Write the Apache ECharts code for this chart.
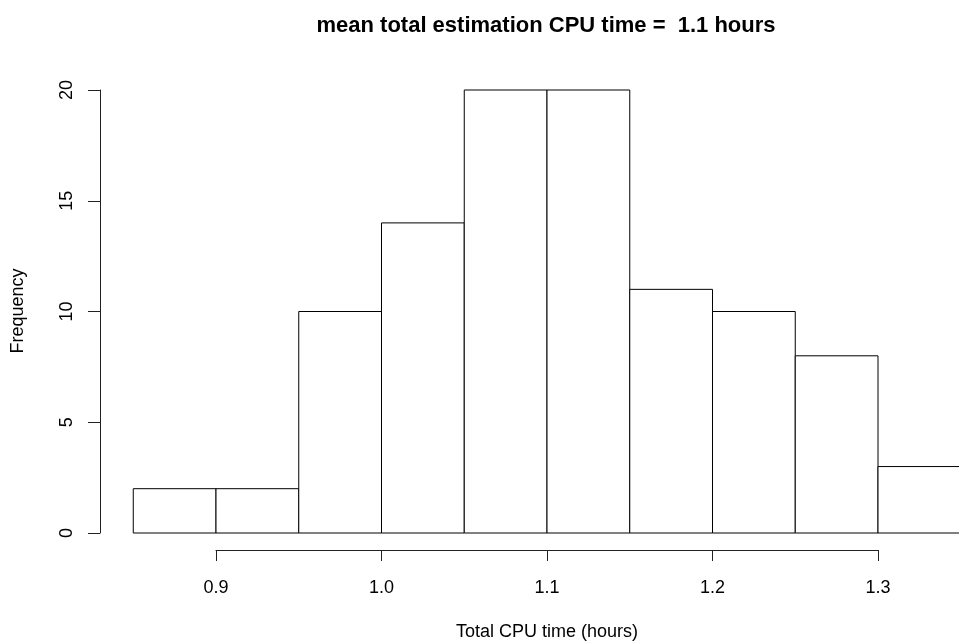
<!DOCTYPE html>
<html>
<head>
<meta charset="utf-8">
<script src="https://cdn.jsdelivr.net/npm/echarts@6/dist/echarts.min.js"></script>
<style>
  html, body { margin: 0; padding: 0; background: #fff; }
  #chart { width: 959px; height: 643px; }
</style>
</head>
<body>
<div id="chart"></div>
<script>
// Histogram of total estimation CPU time, bin width 0.05 hours
const binStarts = [0.85, 0.90, 0.95, 1.00, 1.05, 1.10, 1.15, 1.20, 1.25, 1.30];
const binEnds   = [0.90, 0.95, 1.00, 1.05, 1.10, 1.15, 1.20, 1.25, 1.30, 1.35];
const counts    = [2, 2, 10, 14, 20, 20, 11, 10, 8, 3];
const yTicks    = [0, 5, 10, 15, 20];
const xTicks    = [0.9, 1.0, 1.1, 1.2, 1.3];
const titleText = 'mean total estimation CPU time =  1.1 hours';
const xLabel    = 'Total CPU time (hours)';
const yLabel    = 'Frequency';

const FONT = '"Liberation Sans", Arial, Helvetica, sans-serif';
const AXIS_COLOR = '#222';

const bins = binStarts.map((s, i) => [s, binEnds[i], counts[i]]);

const chart = echarts.init(document.getElementById('chart'), null, { renderer: 'canvas' });

chart.setOption({
  backgroundColor: '#ffffff',
  animation: false,
  title: {
    text: titleText,
    left: 541,
    top: 10,
    textAlign: 'center',
    textStyle: { fontFamily: FONT, fontSize: 22, fontWeight: 'bold', color: '#000' }
  },
  grid: [
    // bars: x scale spans the labelled ticks, outer bins extend past it
    { left: 216, top: 90, width: 662, height: 443, containLabel: false },
    // x axis drawn a little below the bars
    { left: 216, top: 90, width: 662, height: 460, containLabel: false }
  ],
  xAxis: [
    {
      gridIndex: 0, type: 'value', min: xTicks[0], max: xTicks[xTicks.length - 1],
      show: false
    },
    {
      gridIndex: 1, type: 'value', min: xTicks[0], max: xTicks[xTicks.length - 1], interval: 0.1,
      axisLine: { show: true, lineStyle: { color: AXIS_COLOR, width: 1 } },
      axisTick: { show: true, inside: false, length: 11, lineStyle: { color: AXIS_COLOR, width: 1 } },
      axisLabel: {
        show: true, margin: 29, color: '#000', fontFamily: FONT, fontSize: 18,
        formatter: v => v.toFixed(1)
      },
      splitLine: { show: false }
    }
  ],
  yAxis: [
    {
      gridIndex: 0, type: 'value', min: yTicks[0], max: yTicks[yTicks.length - 1], interval: 5,
      offset: 116,
      axisLine: { show: true, lineStyle: { color: AXIS_COLOR, width: 1 } },
      axisTick: { show: true, inside: false, length: 12, lineStyle: { color: AXIS_COLOR, width: 1 } },
      axisLabel: {
        show: true, margin: 24, rotate: 90, color: '#000', fontFamily: FONT, fontSize: 18
      },
      splitLine: { show: false }
    },
    {
      gridIndex: 1, type: 'value', min: 0, max: 1, show: false
    }
  ],
  graphic: [
    {
      type: 'text', x: 547, y: 632,
      style: { text: xLabel, font: '18px ' + FONT, fill: '#000', textAlign: 'center', textVerticalAlign: 'middle' }
    },
    {
      type: 'text', x: 18, y: 311, rotation: Math.PI / 2,
      style: { text: yLabel, font: '18px ' + FONT, fill: '#000', textAlign: 'center', textVerticalAlign: 'middle' }
    }
  ],
  series: [
    {
      type: 'custom',
      xAxisIndex: 0, yAxisIndex: 0,
      clip: false,
      data: bins,
      encode: { x: [0, 1], y: 2 },
      renderItem: function (params, api) {
        const p0 = api.coord([api.value(0), api.value(2)]);
        const p1 = api.coord([api.value(1), 0]);
        return {
          type: 'rect',
          shape: { x: p0[0], y: p0[1], width: p1[0] - p0[0], height: p1[1] - p0[1] },
          style: { fill: '#ffffff', stroke: '#000000', lineWidth: 1 }
        };
      }
    }
  ]
});
</script>
</body>
</html>
